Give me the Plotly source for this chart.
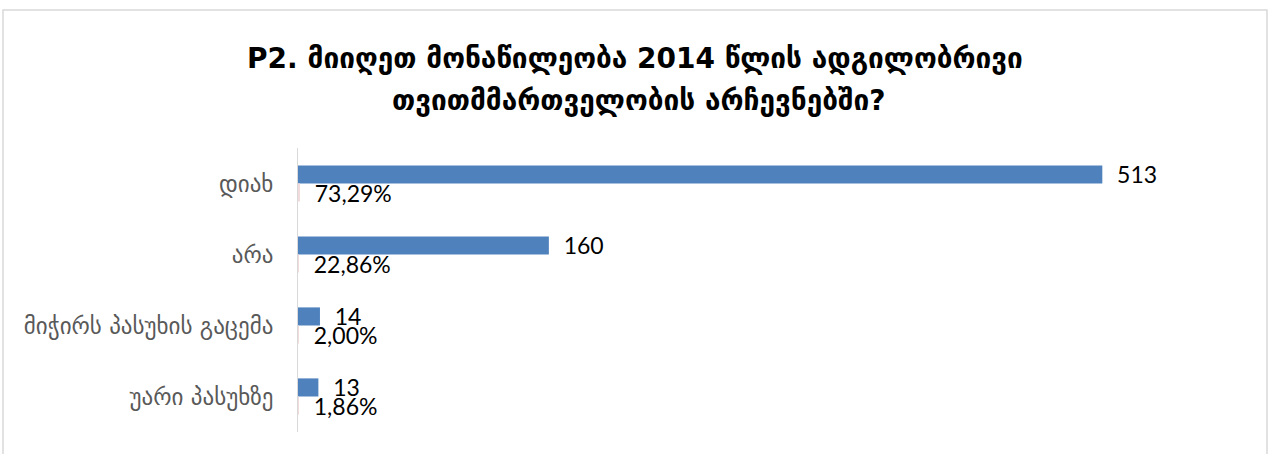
import plotly.graph_objects as go

categories = ["დიახ", "არა", "მიჭირს პასუხის გაცემა", "უარი პასუხზე"]
counts = [513, 160, 14, 13]
percents = [73.29, 22.86, 2.00, 1.86]

title_line1 = "<b>P2. მიიღეთ მონაწილეობა 2014 წლის ადგილობრივი</b>"
title_line2 = "<b>თვითმმართველობის არჩევნებში?</b>"

W, H = 1270, 454
L, R, T, B = 298, 1176, 148, 432

pct_text = [("%.2f%%" % p).replace(".", ",") for p in percents]
pad = "\u00a0\u00a0"

fig = go.Figure()
fig.add_trace(go.Bar(
    y=categories, x=counts, orientation="h",
    marker=dict(color="#4F81BD", line=dict(width=0)),
    text=[pad + str(c) for c in counts], textposition="outside",
    constraintext="none", cliponaxis=False,
    textfont=dict(family="Lato", size=23, color="#000000"),
    name="count",
))
fig.add_trace(go.Bar(
    y=categories, x=[p / 100 for p in percents], orientation="h",
    marker=dict(color="#F2DCDB", line=dict(width=0)),
    text=[pad + t for t in pct_text], textposition="outside",
    constraintext="none", cliponaxis=False,
    textfont=dict(family="Lato", size=23, color="#000000"),
    name="percent",
))

fig.update_layout(
    width=W, height=H,
    margin=dict(l=L, r=W - R, t=T, b=H - B, pad=0),
    paper_bgcolor="white", plot_bgcolor="white",
    showlegend=False,
    barmode="group", bargap=0.49, bargroupgap=0,
    title=dict(text=title_line1, x=0.5, xanchor="center", xref="container",
               y=1 - 58 / H, yanchor="middle", yref="container",
               font=dict(family="DejaVu Sans", size=28, color="#000000")),
    annotations=[dict(text=title_line2, xref="paper", yref="paper",
                      x=(638 - L) / (R - L), y=(B - 100) / (B - T),
                      xanchor="center", yanchor="middle", showarrow=False,
                      font=dict(family="DejaVu Sans", size=28, color="#000000"))],
    xaxis=dict(range=[0, 560], showgrid=False, zeroline=False, showticklabels=False,
               showline=False, fixedrange=True),
    yaxis=dict(autorange="reversed", showgrid=False, zeroline=False,
               showline=True, linecolor="#D9D9D9", linewidth=1,
               ticks="outside", ticklen=19, tickcolor="rgba(0,0,0,0)",
               tickfont=dict(family="DejaVu Sans", size=23, color="#595959")),
    shapes=[dict(type="rect", xref="paper", yref="paper",
                 x0=(3 - L) / (R - L), x1=(1267 - L) / (R - L),
                 y0=(B - 470) / (B - T), y1=(B - 10) / (B - T),
                 line=dict(color="#D9D9D9", width=1.5), fillcolor="rgba(0,0,0,0)",
                 layer="below")],
)

fig.write_html("out.html", config={"displayModeBar": False},
               post_script="document.body.style.margin='0';")
